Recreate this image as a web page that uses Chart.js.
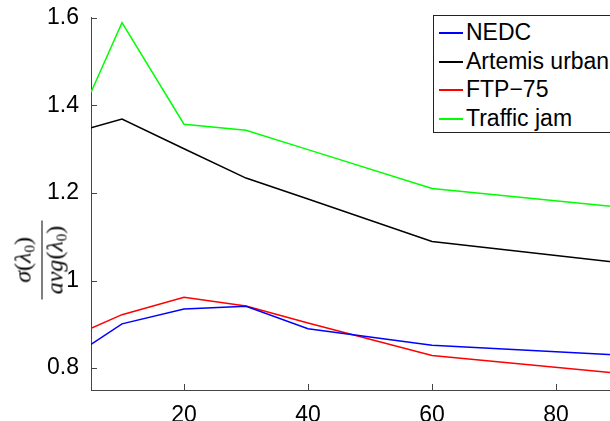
<!DOCTYPE html>
<html>
<head>
<meta charset="utf-8">
<script src="https://cdn.jsdelivr.net/npm/chart.js@4"></script>
<style>
  html, body { margin: 0; padding: 0; background: #fff; overflow: hidden; }
  #wrap { position: relative; width: 610px; height: 421px; overflow: hidden; }
  #chart { position: absolute; left: 0; top: 0; }
  #legend {
    position: absolute; left: 433px; top: 15px; width: 200px; height: 118px;
    border: 1px solid #222; background: #fff; box-sizing: border-box;
    font-family: "Liberation Sans", Arial, sans-serif; font-size: 23px; color: #000;
  }
  #legend .row { position: absolute; left: 0; height: 28px; line-height: 28px; white-space: nowrap; }
  #legend .swatch { position: absolute; left: 5px; top: 14px; width: 24px; height: 2px; }
  #legend .txt { position: absolute; left: 32px; top: 0; }
  #ylabel {
    position: absolute; left: 42px; top: 260px;
    transform: translate(-50%, -50%) rotate(-90deg);
    display: flex; flex-direction: column; align-items: center;
    font-family: "Liberation Serif", "Times New Roman", serif; font-size: 24px; color: #000;
  }
  #ylabel .bar { width: 79px; border-top: 1.5px solid #000; margin: 1px 0; }
  #ylabel span { line-height: 22px; }
  #ylabel sub { font-size: 15px; font-style: normal; vertical-align: -4px; }
</style>
</head>
<body>
<div id="wrap">
  <canvas id="chart" width="630" height="421"></canvas>
  <div id="ylabel">
    <span><i>σ</i>(<i>λ</i><sub>0</sub>)</span>
    <div class="bar"></div>
    <span><i>avg</i>(<i>λ</i><sub>0</sub>)</span>
  </div>
  <div id="legend"></div>
</div>
<script>
// values
const xValues = [5, 10, 20, 30, 40, 60, 90];
const nedc = [0.854, 0.901, 0.935, 0.941, 0.890, 0.852, 0.830];
const artemis = [1.349, 1.369, 1.301, 1.234, 1.186, 1.089, 1.041];
const ftp75 = [0.891, 0.922, 0.962, 0.942, 0.903, 0.829, 0.788];
const trafficJam = [1.430, 1.589, 1.357, 1.343, 1.299, 1.210, 1.168];

const seriesNames = ['NEDC', 'Artemis urban', 'FTP\u221275', 'Traffic jam'];
const seriesColors = ['#0000ff', '#000000', '#ff0000', '#00ff00'];
const seriesValues = [nedc, artemis, ftp75, trafficJam];

const xTicks = [20, 40, 60, 80];
const yTicks = [0.8, 1, 1.2, 1.4, 1.6];

const axisColor = '#444';
const tickFont = { family: '"Liberation Sans", Arial, sans-serif', size: 23 };

// matlab style ticks, pointing into the plot
const innerTicks = {
  id: 'innerTicks',
  afterDraw(chart) {
    const ctx = chart.ctx;
    const area = chart.chartArea;
    const xs = chart.scales.x, ys = chart.scales.y;
    ctx.save();
    ctx.strokeStyle = axisColor;
    ctx.lineWidth = 1;
    ctx.beginPath();
    xTicks.forEach(v => {
      const px = Math.round(xs.getPixelForValue(v)) + 0.5;
      ctx.moveTo(px, area.bottom);
      ctx.lineTo(px, area.bottom - 6);
    });
    yTicks.forEach(v => {
      const py = Math.round(ys.getPixelForValue(v)) + 0.5;
      ctx.moveTo(area.left, py);
      ctx.lineTo(area.left + 6, py);
    });
    ctx.stroke();
    ctx.restore();
  }
};

const datasets = seriesNames.map((name, i) => ({
  label: name,
  data: xValues.map((x, j) => ({ x: x, y: seriesValues[i][j] })),
  borderColor: seriesColors[i],
  borderWidth: 1.5,
  pointRadius: 0,
  tension: 0,
  fill: false
}));

new Chart(document.getElementById('chart'), {
  type: 'line',
  data: { datasets: datasets },
  options: {
    responsive: false,
    animation: false,
    layout: { padding: { top: 15, right: 12, left: 0, bottom: 0 } },
    plugins: { legend: { display: false }, tooltip: { enabled: false } },
    scales: {
      x: {
        type: 'linear',
        min: 5,
        max: 90,
        grid: { display: false },
        border: { display: true, color: axisColor, width: 1 },
        afterBuildTicks: s => { s.ticks = xTicks.map(v => ({ value: v })); },
        afterFit: s => { s.height = 31; },
        ticks: { color: '#000', font: tickFont, padding: 4, maxRotation: 0 }
      },
      y: {
        type: 'linear',
        min: 0.75,
        max: 1.6,
        grid: { display: false },
        border: { display: true, color: axisColor, width: 1 },
        afterBuildTicks: s => { s.ticks = yTicks.map(v => ({ value: v })); },
        afterFit: s => { s.width = 91; },
        ticks: { color: '#000', font: tickFont, padding: 4, callback: v => String(v) }
      }
    }
  },
  plugins: [innerTicks]
});

// legend box in the top right corner, same as the matlab one
const legend = document.getElementById('legend');
seriesNames.forEach((name, i) => {
  const row = document.createElement('div');
  row.className = 'row';
  row.style.top = (2 + i * 28.5) + 'px';
  row.innerHTML = '<div class="swatch"></div><div class="txt"></div>';
  row.querySelector('.swatch').style.background = seriesColors[i];
  row.querySelector('.txt').textContent = name;
  legend.appendChild(row);
});
</script>
</body>
</html>
